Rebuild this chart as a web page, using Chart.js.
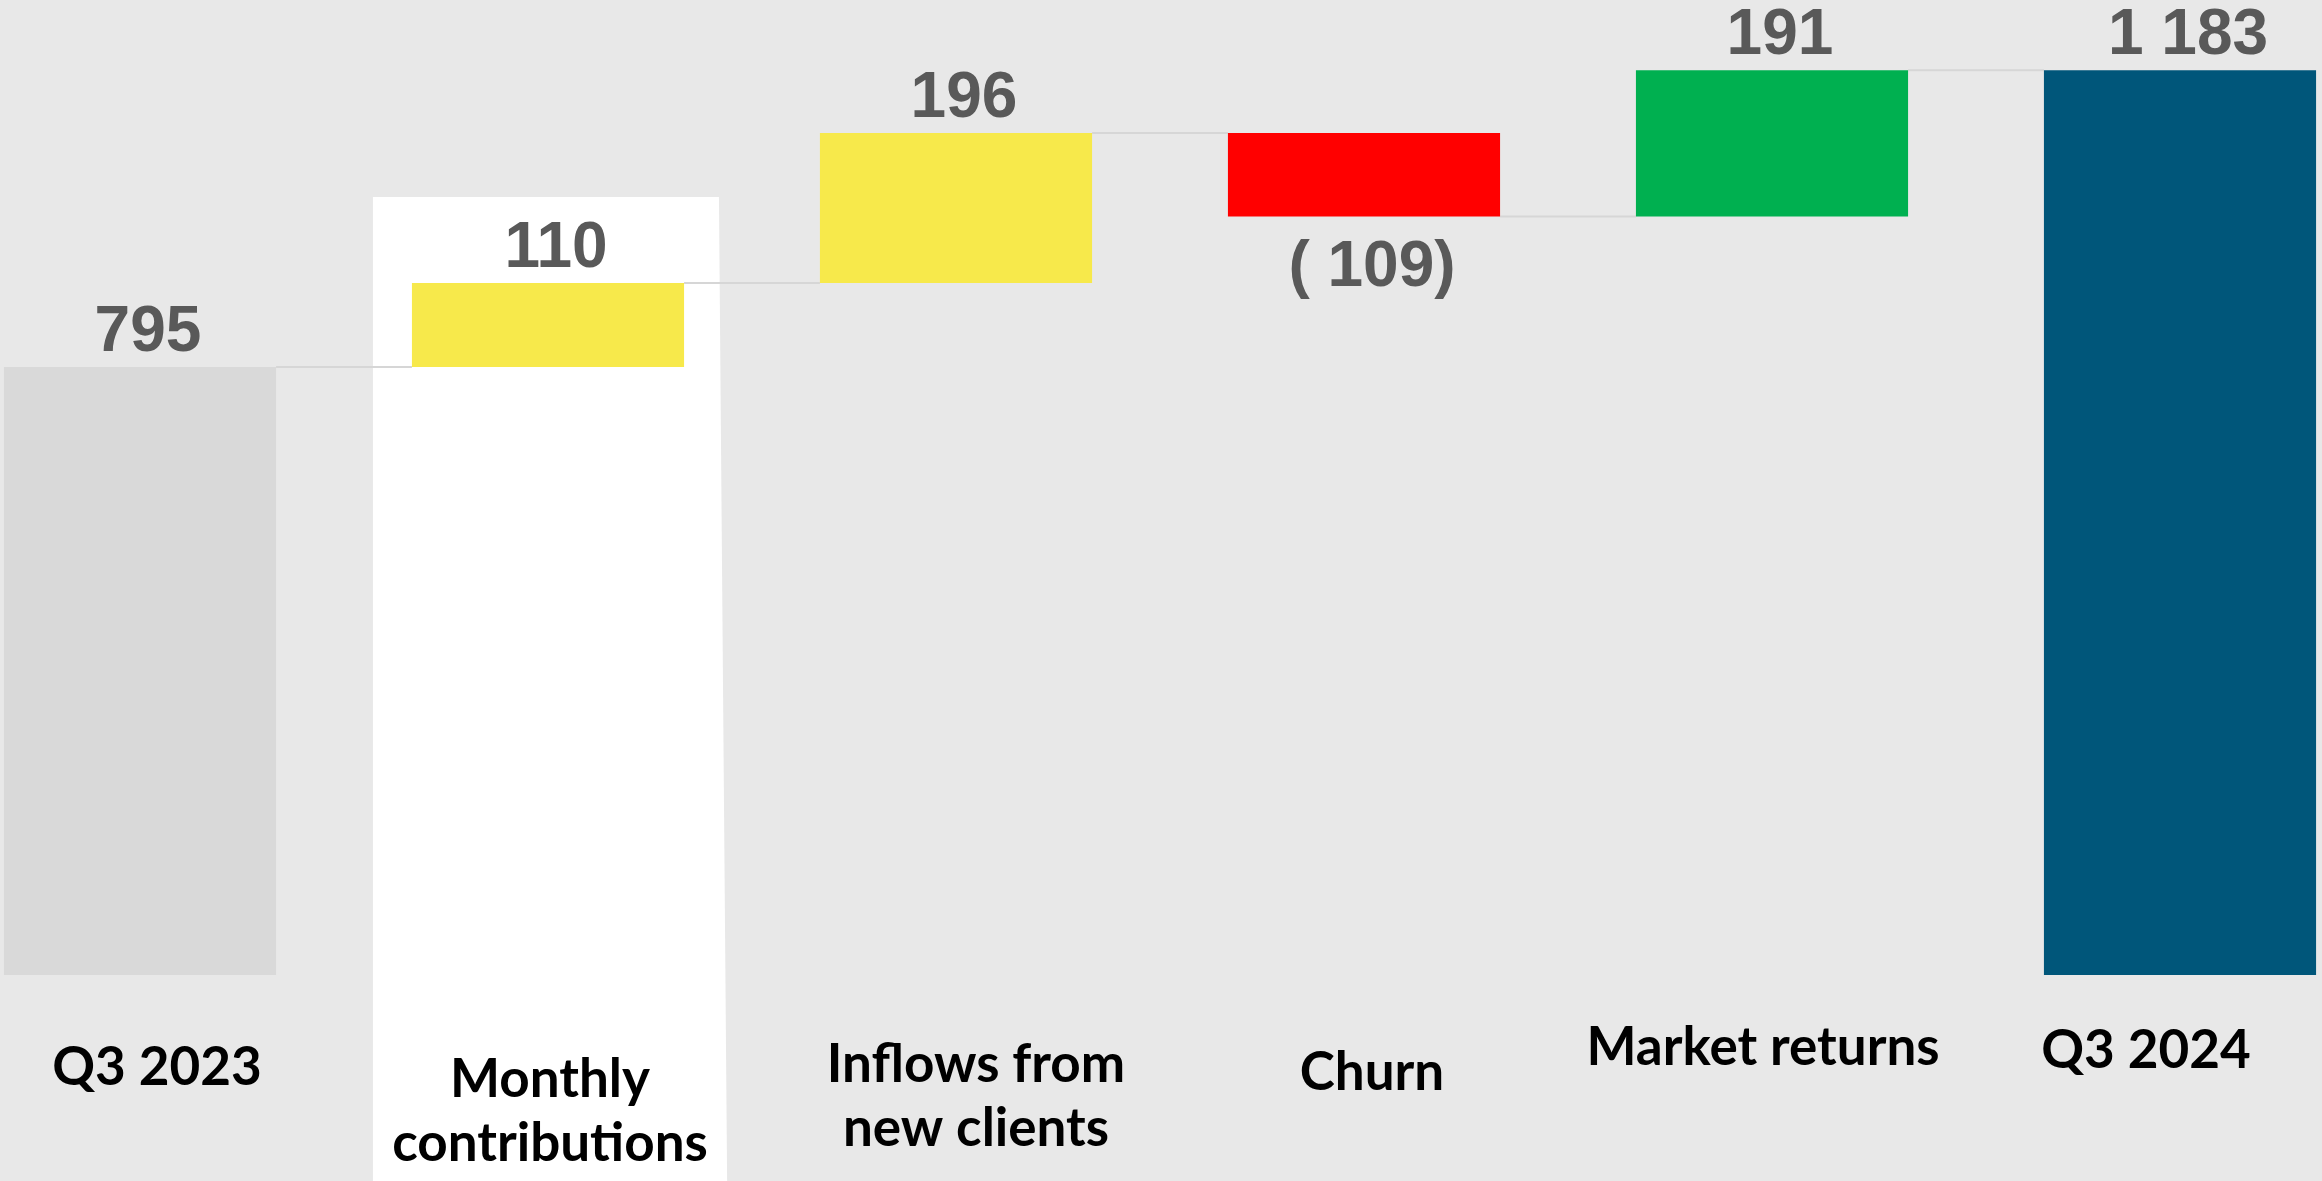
<!DOCTYPE html>
<html>
<head>
<meta charset="utf-8">
<script src="https://cdn.jsdelivr.net/npm/chart.js@4/dist/chart.umd.min.js"></script>
<style>
  html, body { margin: 0; padding: 0; background: #e8e8e8; overflow: hidden; }
  #wrap { position: absolute; left: -64px; top: 0; width: 2448px; height: 1181px; }
</style>
</head>
<body>
<div id="wrap"><canvas id="aumChart" width="2448" height="1181"></canvas></div>
<script>
// Assets bridge, Q3 2023 -> Q3 2024
const categories = [['Q3 2023'], ['Monthly', 'contributions'], ['Inflows from', 'new clients'], ['Churn'], ['Market returns'], ['Q3 2024']];
const startValue = 795;
const changes = [110, 196, -109, 191];
const endValue = 1183;
const barColors = ['#d9d9d9', '#f7e94b', '#f7e94b', '#ff0000', '#00b050', '#00567a'];
const highlightIndex = 1;

// per-label nudges for the category captions (px from bar centre / below plot)
const captionDx = [17, 2, 20, 8, -9, -34];
const captionBaseline = [110, 122, 107, 115, 90, 93];

// floating [from, to] ranges for each step
const ranges = [[0, startValue]];
let running = startValue;
changes.forEach(c => { ranges.push([running, running + c]); running += c; });
ranges.push([0, endValue]);
const shownValues = [startValue, ...changes, endValue];

function fmt(v) {
    const s = Math.abs(v).toString().replace(/\B(?=(\d{3})+(?!\d))/g, ' ');
    return v < 0 ? '( ' + s + ')' : s;
}

function barBox(el) {
    return {
        left: el.x - el.width / 2,
        right: el.x + el.width / 2,
        top: Math.min(el.y, el.base),
        bottom: Math.max(el.y, el.base)
    };
}

// white panel behind "Monthly contributions" + grey connector lines
const backdrop = {
    id: 'backdrop',
    beforeDatasetsDraw(chart) {
        const { ctx, scales: { x, y } } = chart;
        const bars = chart.getDatasetMeta(0).data;
        const step = x.width / categories.length;

        const hb = barBox(bars[highlightIndex]);
        const cx = x.getPixelForValue(highlightIndex);
        const top = hb.top - 86;
        ctx.save();
        ctx.fillStyle = '#ffffff';
        ctx.beginPath();
        ctx.moveTo(cx - step * 0.429, top);
        ctx.lineTo(cx + step * 0.419, top);
        ctx.lineTo(cx + step * 0.439, chart.height);
        ctx.lineTo(cx - step * 0.429, chart.height);
        ctx.closePath();
        ctx.fill();

        ctx.strokeStyle = '#d6d6d6';
        ctx.lineWidth = 2;
        for (let i = 0; i < bars.length - 1; i++) {
            const level = y.getPixelForValue(ranges[i][1]);
            ctx.beginPath();
            ctx.moveTo(barBox(bars[i]).right, level);
            ctx.lineTo(barBox(bars[i + 1]).left, level);
            ctx.stroke();
        }
        ctx.restore();
    },
    afterDatasetsDraw(chart) {
        const { ctx, chartArea } = chart;
        const bars = chart.getDatasetMeta(0).data;
        ctx.save();
        ctx.textAlign = 'center';
        ctx.textBaseline = 'alphabetic';

        // value labels
        ctx.fillStyle = '#595959';
        ctx.font = 'bold 64px "Liberation Sans", Arial, sans-serif';
        bars.forEach((el, i) => {
            const b = barBox(el);
            const v = shownValues[i];
            const ty = v < 0 ? b.bottom + 70 : b.top - 16;
            ctx.fillText(fmt(v), el.x + 8, ty);
        });

        // category captions
        ctx.fillStyle = '#000000';
        ctx.font = 'bold 53px Lato, sans-serif';
        categories.forEach((lines, i) => {
            const cx = chart.scales.x.getPixelForValue(i) + captionDx[i];
            lines.forEach((line, j) => {
                ctx.fillText(line, cx, chartArea.bottom + captionBaseline[i] + j * 64);
            });
        });
        ctx.restore();
    }
};

new Chart(document.getElementById('aumChart'), {
    type: 'bar',
    data: {
        labels: categories,
        datasets: [{
            data: ranges,
            backgroundColor: barColors,
            borderWidth: 0,
            barPercentage: 0.667,
            categoryPercentage: 1
        }]
    },
    options: {
        responsive: false,
        devicePixelRatio: 1,
        animation: false,
        layout: { padding: { top: 0, left: 0, right: 0, bottom: 206 } },
        plugins: { legend: { display: false }, tooltip: { enabled: false } },
        scales: {
            x: { display: false, offset: true },
            y: { display: false, min: 0, max: 1275 }
        }
    },
    plugins: [backdrop]
});
</script>
</body>
</html>
